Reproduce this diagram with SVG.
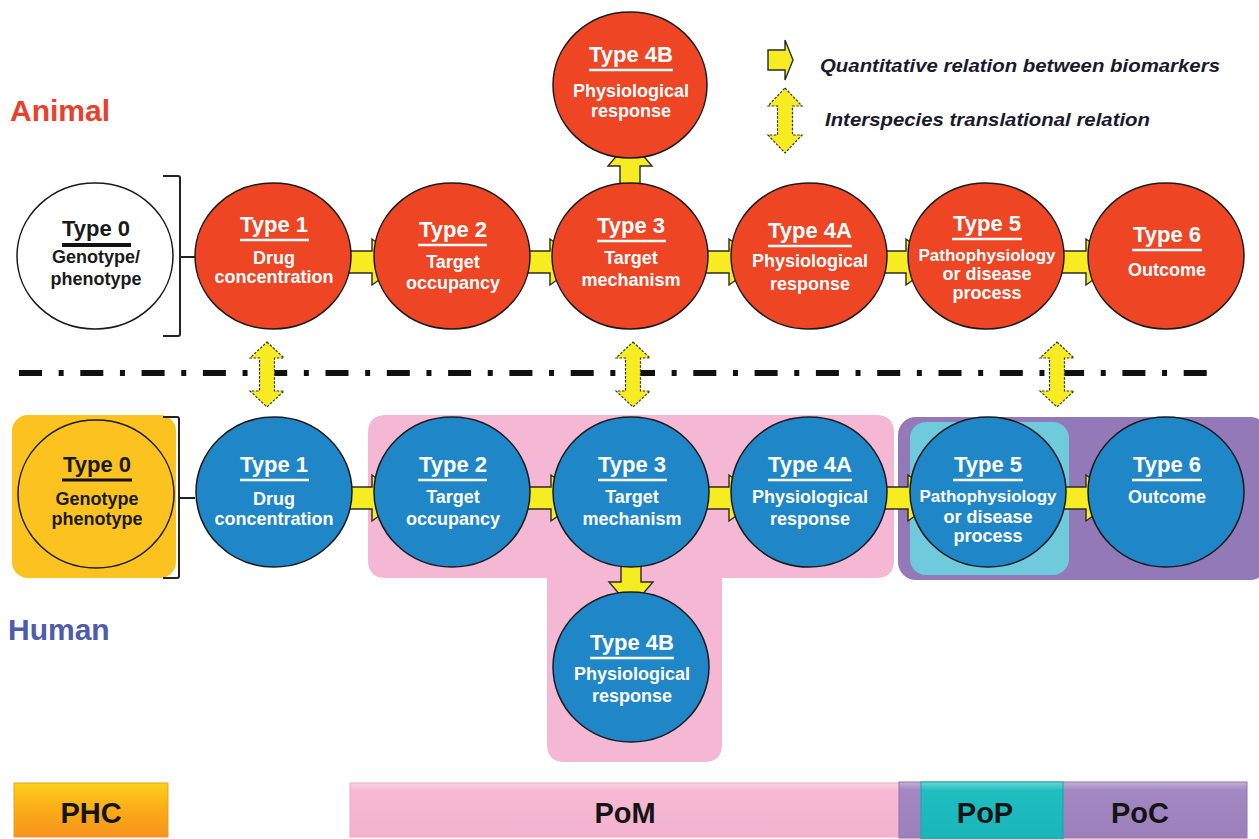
<svg xmlns="http://www.w3.org/2000/svg" width="1259" height="839" viewBox="0 0 1259 839">
<defs>
<style>
text{font-family:"Liberation Sans",Arial,Helvetica,sans-serif;font-weight:bold;text-anchor:middle}
.ttl{font-size:22px;fill:#fff}
.sub{font-size:18px;fill:#fff}
.ttlk{font-size:22px;fill:#1a1a1a}
.subk{font-size:18px;fill:#1a1a1a}
.ul{stroke:#fff;stroke-width:2.5}
.ulk{stroke:#111;stroke-width:4}
.red{fill:#ee4524;stroke:#1a1a1a;stroke-width:1.5}
.blue{fill:#1f87c8;stroke:#1a1a1a;stroke-width:1.5}
.arr{fill:#f7ec22;stroke:#2a2a2a;stroke-width:1.4;stroke-linejoin:miter}
.darr{fill:#f7ec22;stroke:#333;stroke-width:1.2;stroke-dasharray:2.5 1.5}
.brk{fill:none;stroke:#222;stroke-width:2}
.leg{font-size:18px;font-style:italic;fill:#1a1a2e;text-anchor:start}
.bar{font-size:29px;fill:#141414}
</style>
<linearGradient id="gPHC" x1="0" y1="0" x2="0" y2="1"><stop offset="0" stop-color="#fdd01c"/><stop offset="0.5" stop-color="#fbab18"/><stop offset="1" stop-color="#f6931d"/></linearGradient>
<linearGradient id="gPoM" x1="0" y1="0" x2="0" y2="1"><stop offset="0" stop-color="#fbd3e4"/><stop offset="0.15" stop-color="#f6b9d3"/><stop offset="1" stop-color="#f3b2cf"/></linearGradient>
<linearGradient id="gPoP" x1="0" y1="0" x2="0" y2="1"><stop offset="0" stop-color="#6fd6d6"/><stop offset="0.15" stop-color="#1fbec0"/><stop offset="1" stop-color="#19b6b9"/></linearGradient>
<linearGradient id="gPoC" x1="0" y1="0" x2="0" y2="1"><stop offset="0" stop-color="#c3b0d8"/><stop offset="0.15" stop-color="#a387c1"/><stop offset="1" stop-color="#9b80bb"/></linearGradient>
</defs>
<rect width="1259" height="839" fill="#fff"/>

<!-- species labels -->
<text x="10" y="121" style="font-size:30px;fill:#e8412c;text-anchor:start">Animal</text>
<text x="8" y="640" style="font-size:30px;fill:#4f5bab;text-anchor:start">Human</text>

<!-- background regions -->
<g id="regions">
<rect id="phc-region" x="12" y="415" width="164" height="163" rx="16" fill="#fcc21f"/>
<path id="pom-region" d="M386,415 H876 Q894,415 894,433 V560 Q894,578 876,578 H722 V744 Q722,762 704,762 H565 Q547,762 547,744 V578 H386 Q368,578 368,560 V433 Q368,415 386,415 Z" fill="#f4b8d5"/>
<rect id="poc-region" x="898" y="417" width="370" height="163" rx="18" fill="#9479b8"/>
<rect id="pop-region" x="910" y="422" width="159" height="153" rx="16" fill="#6fcbdc"/>
</g>

<!-- separator -->
<line x1="19" y1="373" x2="1207" y2="373" stroke="#111" stroke-width="6" stroke-dasharray="23 16.65 5 16.65"/>

<!-- brackets -->
<path class="brk" d="M163,176 H178 Q180,176 180,178 V334 Q180,336 178,336 H163 M180,257 H195"/>
<path class="brk" d="M163,417 H177 Q179,417 179,419 V576 Q179,578 177,578 H163 M179,498 H195"/>

<!-- connectors -->
<g id="connectors">
<!-- animal row -->
<polygon class="arr" points="346,251 372,251 372,239 404,262 372,285 372,273 346,273"/>
<polygon class="arr" points="525,251 550,251 550,239 582,262 550,285 550,273 525,273"/>
<polygon class="arr" points="703,251 729,251 729,239 761,262 729,285 729,273 703,273"/>
<polygon class="arr" points="882,251 906,251 906,239 938,262 906,285 906,273 882,273"/>
<polygon class="arr" points="1059,251 1086,251 1086,239 1118,262 1086,285 1086,273 1059,273"/>
<polygon class="arr" points="620,188 620,166 608,166 630,140 652,166 640,166 640,188"/>
<!-- human row -->
<polygon class="arr" points="346,487 372,487 372,475 404,498 372,521 372,509 346,509"/>
<polygon class="arr" points="525,487 551,487 551,475 583,498 551,521 551,509 525,509"/>
<polygon class="arr" points="703,487 729,487 729,475 761,498 729,521 729,509 703,509"/>
<polygon class="arr" points="882,487 908,487 908,475 940,498 908,521 908,509 882,509"/>
<polygon class="arr" points="1059,487 1086,487 1086,475 1118,498 1086,521 1086,509 1059,509"/>
<polygon class="arr" points="621,560 621,582 609,582 631,608 653,582 641,582 641,560"/>
<!-- interspecies -->
<polygon class="darr" points="267,342 284,358 274.5,358 274.5,391 284,391 267,407 250,391 259.5,391 259.5,358 250,358"/>
<polygon class="darr" points="633,342 650,358 640.5,358 640.5,391 650,391 633,407 616,391 625.5,391 625.5,358 616,358"/>
<polygon class="darr" points="1057,342 1074,358 1064.5,358 1064.5,391 1074,391 1057,407 1040,391 1049.5,391 1049.5,358 1040,358"/>
</g>

<!-- legend -->
<g id="legend">
<polygon class="arr" points="768,50 785,50 785,40 793,60 785,80 785,70 768,70"/>
<text class="leg" x="820" y="72" textLength="400" lengthAdjust="spacingAndGlyphs">Quantitative relation between biomarkers</text>
<polygon class="darr" points="785,88 802,106 792.5,106 792.5,135 802,135 785,153 768,135 777.5,135 777.5,106 768,106"/>
<text class="leg" x="825" y="126" textLength="325" lengthAdjust="spacingAndGlyphs">Interspecies translational relation</text>
</g>

<!-- animal nodes -->
<g id="a-type0">
<ellipse cx="95" cy="256" rx="78" ry="73" fill="#fff" stroke="#1a1a1a" stroke-width="1.5"/>
<text class="ttlk" x="96" y="236">Type 0</text>
<line class="ulk" x1="62" y1="245" x2="131" y2="245"/>
<text class="subk" x="96" y="263">Genotype/</text>
<text class="subk" x="96" y="285">phenotype</text>
</g>
<g id="a-type1">
<ellipse class="red" cx="273" cy="256" rx="78" ry="73"/>
<text class="ttl" x="274" y="232">Type 1</text>
<line class="ul" x1="240" y1="240" x2="309" y2="240"/>
<text class="sub" x="274" y="264">Drug</text>
<text class="sub" x="274" y="283">concentration</text>
</g>
<g id="a-type2">
<ellipse class="red" cx="452" cy="256" rx="78" ry="73"/>
<text class="ttl" x="453" y="237">Type 2</text>
<line class="ul" x1="418" y1="245" x2="487" y2="245"/>
<text class="sub" x="453" y="268">Target</text>
<text class="sub" x="453" y="289">occupancy</text>
</g>
<g id="a-type3">
<ellipse class="red" cx="630" cy="256" rx="78" ry="73"/>
<text class="ttl" x="631" y="233">Type 3</text>
<line class="ul" x1="597" y1="241" x2="666" y2="241"/>
<text class="sub" x="631" y="264">Target</text>
<text class="sub" x="631" y="286">mechanism</text>
</g>
<g id="a-type4a">
<ellipse class="red" cx="809" cy="256" rx="78" ry="73"/>
<text class="ttl" x="810" y="238">Type 4A</text>
<line class="ul" x1="768" y1="246" x2="852" y2="246"/>
<text class="sub" x="810" y="267">Physiological</text>
<text class="sub" x="810" y="290">response</text>
</g>
<g id="a-type5">
<ellipse class="red" cx="986" cy="256" rx="78" ry="73"/>
<text class="ttl" x="987" y="231">Type 5</text>
<line class="ul" x1="952" y1="239" x2="1022" y2="239"/>
<text class="sub" x="987" y="261" style="font-size:17px">Pathophysiology</text>
<text class="sub" x="987" y="280">or disease</text>
<text class="sub" x="987" y="299">process</text>
</g>
<g id="a-type6">
<ellipse class="red" cx="1166" cy="256" rx="78" ry="73"/>
<text class="ttl" x="1167" y="242">Type 6</text>
<line class="ul" x1="1132" y1="250" x2="1202" y2="250"/>
<text class="sub" x="1167" y="276">Outcome</text>
</g>
<g id="a-type4b">
<ellipse class="red" cx="630" cy="85" rx="77" ry="73"/>
<text class="ttl" x="631" y="62">Type 4B</text>
<line class="ul" x1="589" y1="70" x2="673" y2="70"/>
<text class="sub" x="631" y="97">Physiological</text>
<text class="sub" x="631" y="117">response</text>
</g>

<!-- human nodes -->
<g id="h-type0">
<ellipse cx="96" cy="494" rx="78" ry="74" fill="#fcc21f" stroke="#1a1a1a" stroke-width="1.5"/>
<text class="ttlk" x="97" y="472">Type 0</text>
<line class="ulk" x1="62" y1="480" x2="132" y2="480" style="stroke-width:3"/>
<text class="subk" x="97" y="505">Genotype</text>
<text class="subk" x="97" y="525">phenotype</text>
</g>
<g id="h-type1">
<ellipse class="blue" cx="274" cy="492" rx="78" ry="75"/>
<text class="ttl" x="274" y="472">Type 1</text>
<line class="ul" x1="240" y1="480" x2="309" y2="480"/>
<text class="sub" x="274" y="505">Drug</text>
<text class="sub" x="274" y="525">concentration</text>
</g>
<g id="h-type2">
<ellipse class="blue" cx="452" cy="492" rx="78" ry="75"/>
<text class="ttl" x="453" y="472">Type 2</text>
<line class="ul" x1="418" y1="480" x2="487" y2="480"/>
<text class="sub" x="453" y="503">Target</text>
<text class="sub" x="453" y="525">occupancy</text>
</g>
<g id="h-type3">
<ellipse class="blue" cx="631" cy="492" rx="78" ry="75"/>
<text class="ttl" x="632" y="472">Type 3</text>
<line class="ul" x1="598" y1="480" x2="667" y2="480"/>
<text class="sub" x="632" y="503">Target</text>
<text class="sub" x="632" y="525">mechanism</text>
</g>
<g id="h-type4a">
<ellipse class="blue" cx="809" cy="492" rx="78" ry="75"/>
<text class="ttl" x="810" y="472">Type 4A</text>
<line class="ul" x1="768" y1="480" x2="852" y2="480"/>
<text class="sub" x="810" y="503">Physiological</text>
<text class="sub" x="810" y="525">response</text>
</g>
<g id="h-type5">
<ellipse class="blue" cx="988" cy="492" rx="78" ry="75"/>
<text class="ttl" x="988" y="472">Type 5</text>
<line class="ul" x1="953" y1="480" x2="1023" y2="480"/>
<text class="sub" x="988" y="502" style="font-size:17px">Pathophysiology</text>
<text class="sub" x="988" y="523">or disease</text>
<text class="sub" x="988" y="542">process</text>
</g>
<g id="h-type6">
<ellipse class="blue" cx="1166" cy="492" rx="78" ry="75"/>
<text class="ttl" x="1167" y="472">Type 6</text>
<line class="ul" x1="1132" y1="480" x2="1202" y2="480"/>
<text class="sub" x="1167" y="503">Outcome</text>
</g>
<g id="h-type4b">
<ellipse class="blue" cx="631" cy="667" rx="78" ry="75"/>
<text class="ttl" x="632" y="650">Type 4B</text>
<line class="ul" x1="590" y1="658" x2="674" y2="658"/>
<text class="sub" x="632" y="680">Physiological</text>
<text class="sub" x="632" y="702">response</text>
</g>

<!-- phase bars -->
<g id="bar-phc">
<rect x="14" y="783" width="154" height="54" fill="url(#gPHC)" stroke="#e9a020" stroke-width="1"/>
<text class="bar" x="91" y="823">PHC</text>
</g>
<g id="bar-pom">
<rect x="350" y="783" width="550" height="54" fill="url(#gPoM)" stroke="#eaa9c6" stroke-width="1"/>
<text class="bar" x="625" y="823">PoM</text>
</g>
<g id="bar-poc">
<rect x="899" y="782" width="348" height="56" fill="url(#gPoC)" stroke="#8e74b0" stroke-width="1"/>
<text class="bar" x="1140" y="823">PoC</text>
</g>
<g id="bar-pop">
<rect x="921" y="782" width="142" height="57" fill="url(#gPoP)" stroke="#16a7aa" stroke-width="1"/>
<text class="bar" x="985" y="823">PoP</text>
</g>
</svg>
